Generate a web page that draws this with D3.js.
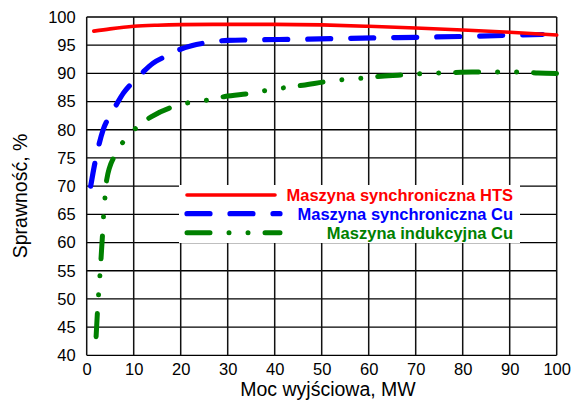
<!DOCTYPE html>
<html><head><meta charset="utf-8">
<script src="https://cdn.jsdelivr.net/npm/d3@7"></script>
<style>
html,body{margin:0;padding:0;background:#fff;}
svg{display:block;font-family:Arial,"Liberation Sans",sans-serif;}
</style></head>
<body><svg id="c" width="572" height="401"></svg>
<script>
const xTicks = [0,10,20,30,40,50,60,70,80,90,100];
const yTicks = [40,45,50,55,60,65,70,75,80,85,90,95,100];
const seriesNames = ["Maszyna synchroniczna HTS","Maszyna synchroniczna Cu","Maszyna indukcyjna Cu"];

const htsX = [1.5,5,10,15,20,30,40,50,60,70,80,90,100];
const htsY = [97.5,97.9,98.35,98.55,98.65,98.7,98.7,98.6,98.35,98.05,97.7,97.3,96.8];

const cuX = [0.85,1.6,2.5,3.5,4.7,6,7.8,10,11.7,14.1,17,19.1,22.3,26,30,36,45,52,61,70,80,90,97];
const cuY = [70,73.5,77,80,82.2,84,86.5,88.6,90,91.8,93.1,94.0,94.9,95.5,95.85,95.95,96.05,96.15,96.3,96.4,96.55,96.75,96.9];

const indX = [2.0,2.3,2.55,2.8,3.05,3.4,3.6,3.9,4.25,6,8.1,10.6,13.7,18.8,22.3,26,29.4,35.3,38.9,42.5,46,52,55.5,59.3,62.7,68.8,72,76,82,89,93,96,100];
const indY = [43.3,47.9,51,54,57.2,61.9,64.9,68.1,71.1,75.5,78.2,80.4,82.3,84.2,84.9,85.3,85.9,86.5,87.1,87.5,87.9,88.65,88.95,89.2,89.5,89.8,90.0,90.1,90.25,90.25,90.25,90.05,90.0];

const svg = d3.select("#c");
const x = d3.scaleLinear().domain([0,100]).range([86.7,556.7]);
const y = d3.scaleLinear().domain([40,100]).range([355.3,17]);

const grid = svg.append("g");
grid.selectAll("line.h").data(yTicks).join("line")
  .attr("x1", x(0)).attr("x2", x(100))
  .attr("y1", d=>y(d)).attr("y2", d=>y(d))
  .attr("stroke","#000").attr("stroke-width",1.3);
grid.selectAll("line.v").data(xTicks).join("line")
  .attr("y1", y(40)).attr("y2", y(100))
  .attr("x1", d=>x(d)).attr("x2", d=>x(d))
  .attr("stroke","#111").attr("stroke-width",1.5);

const xAxis = svg.append("g").attr("transform",`translate(0,${y(40)})`)
  .call(d3.axisBottom(x).tickValues(xTicks).tickSize(0).tickPadding(8));
const yAxis = svg.append("g").attr("transform",`translate(${x(0)},0)`)
  .call(d3.axisLeft(y).tickValues(yTicks).tickSize(0).tickPadding(11));
[xAxis,yAxis].forEach(a=>{
  a.select(".domain").remove();
  a.selectAll("text").attr("font-size",16.5).attr("font-family","Arial, 'Liberation Sans', sans-serif").attr("fill","#000");
});

const line = d3.line().x(d=>x(d[0])).y(d=>y(d[1])).curve(d3.curveMonotoneX);
const styles = [
  {color:"#ff0000", w:3.6, dash:null},
  {color:"#0000ff", w:5.2, dash:"23,20"},
  {color:"#008000", w:5.0, dash:"23,19,0.01,19,0.01,17"}
];
const data = [d3.zip(htsX,htsY), d3.zip(cuX,cuY), d3.zip(indX,indY)];
[2,1,0].forEach(i=>{
  svg.append("path").datum(data[i]).attr("d",line)
    .attr("fill","none").attr("stroke",styles[i].color)
    .attr("stroke-width",styles[i].w).attr("stroke-linecap","round")
    .attr("stroke-dasharray",styles[i].dash);
});

const lg = svg.append("g");
lg.append("rect").attr("x",179).attr("y",185).attr("width",341).attr("height",58).attr("fill","#fff");
const ly = [195,213.7,232.7];
const tb = [200.5,219.5,238.5];
seriesNames.forEach((n,i)=>{
  lg.append("line").attr("x1",187).attr("x2",i===0?275:280).attr("y1",ly[i]).attr("y2",ly[i])
    .attr("stroke",styles[i].color).attr("stroke-width",styles[i].w).attr("stroke-linecap","round")
    .attr("stroke-dasharray",styles[i].dash);
  lg.append("text").attr("x",513).attr("y",tb[i]).attr("text-anchor","end")
    .attr("font-size",16.5).attr("font-weight","bold").attr("fill",styles[i].color).text(n);
});

svg.append("text").attr("x",328).attr("y",396).attr("text-anchor","middle")
  .attr("font-size",19.5).text("Moc wyjściowa, MW");
svg.append("text").attr("transform","translate(27,196) rotate(-90)").attr("text-anchor","middle")
  .attr("font-size",19.5).text("Sprawność, %");
</script></body></html>
